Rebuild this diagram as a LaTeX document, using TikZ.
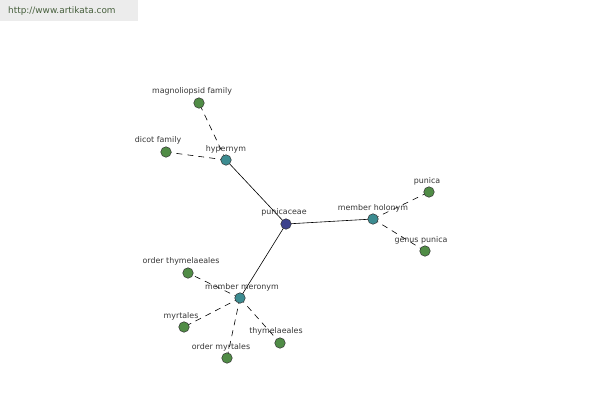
\documentclass[tikz,border=0pt]{standalone}
\usepackage{fontspec}
\setmainfont{DejaVu Sans}
\definecolor{leafc}{RGB}{80,140,70}
\definecolor{hubc}{RGB}{60,140,145}
\definecolor{rootc}{RGB}{60,65,140}
\definecolor{txtc}{RGB}{55,55,55}
\definecolor{barc}{RGB}{236,236,236}
\definecolor{urlc}{RGB}{70,95,60}
\begin{document}
\begin{tikzpicture}[x=1pt,y=-1pt,
  dot/.style={circle,draw=black!80,line width=0.5pt,minimum size=10.5pt,inner sep=0pt},
  leaf/.style={dot,fill=leafc},
  hub/.style={dot,fill=hubc},
  root/.style={dot,fill=rootc},
  lbl/.style={font=\fontsize{7.9}{9}\selectfont,text=txtc,inner sep=0pt},
  solidedge/.style={draw=black,line width=0.6pt},
  dashedge/.style={draw=black,line width=0.6pt,dash pattern=on 6pt off 5pt}]
\useasboundingbox (0,0) rectangle (600,400);
\fill[white] (0,0) rectangle (600,400);
\fill[barc] (0,0) rectangle (138,21);
\node[anchor=west,inner sep=0pt,font=\fontsize{8.9}{10}\selectfont,text=urlc] (url) at (8,11) {http://www.artikata.com};

\coordinate (pc) at (286,224);
\coordinate (hy) at (226,160);
\coordinate (ho) at (373,219);
\coordinate (me) at (240,298);
\coordinate (mf) at (199,103);
\coordinate (df) at (166,152);
\coordinate (pu) at (429,192);
\coordinate (gp) at (425,251);
\coordinate (ot) at (188,273);
\coordinate (my) at (184,327);
\coordinate (om) at (227,358);
\coordinate (th) at (280,343);

\draw[solidedge] (pc) -- (hy);
\draw[solidedge] (pc) -- (ho);
\draw[solidedge] (pc) -- (me);
\draw[dashedge] (hy) -- (mf);
\draw[dashedge] (hy) -- (df);
\draw[dashedge] (ho) -- (pu);
\draw[dashedge] (ho) -- (gp);
\draw[dashedge] (me) -- (ot);
\draw[dashedge] (me) -- (my);
\draw[dashedge] (me) -- (om);
\draw[dashedge] (me) -- (th);

\node[root] (npc) at (pc) {};
\node[hub] (nhy) at (hy) {};
\node[hub] (nho) at (ho) {};
\node[hub] (nme) at (me) {};
\node[leaf] (nmf) at (mf) {};
\node[leaf] (ndf) at (df) {};
\node[leaf] (npu) at (pu) {};
\node[leaf] (ngp) at (gp) {};
\node[leaf] (not) at (ot) {};
\node[leaf] (nmy) at (my) {};
\node[leaf] (nom) at (om) {};
\node[leaf] (nth) at (th) {};

\node[lbl] (lpc) at (284,212) {punicaceae};
\node[lbl] (lhy) at (226,149) {hypernym};
\node[lbl] (lho) at (373,208) {member holonym};
\node[lbl] (lme) at (242,287) {member meronym};
\node[lbl] (lmf) at (192,91) {magnoliopsid family};
\node[lbl] (ldf) at (158,140) {dicot family};
\node[lbl] (lpu) at (427,181) {punica};
\node[lbl] (lgp) at (421,240) {genus punica};
\node[lbl] (lot) at (181,261) {order thymelaeales};
\node[lbl] (lmy) at (181,316) {myrtales};
\node[lbl] (lom) at (221,347) {order myrtales};
\node[lbl] (lth) at (276,331) {thymelaeales};
\end{tikzpicture}
\end{document}
